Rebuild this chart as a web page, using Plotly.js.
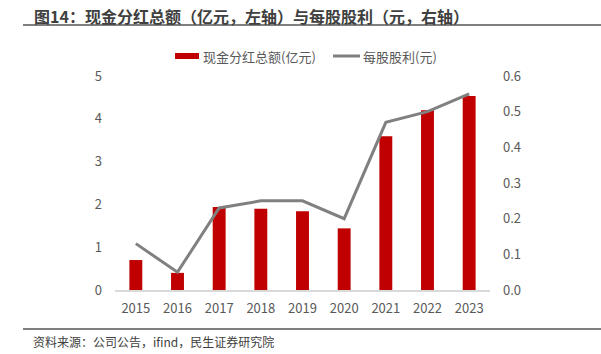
<!DOCTYPE html>
<html><head><meta charset="utf-8">
<script src="https://cdn.plot.ly/plotly-3.0.1.min.js"></script>
<style>html,body{margin:0;padding:0;background:#fff;}#chart{width:601px;height:354px;}</style>
</head><body><div id="chart"></div>
<script>
const years = ['2015','2016','2017','2018','2019','2020','2021','2022','2023'];
const cashDividend = [0.70, 0.40, 1.94, 1.90, 1.84, 1.44, 3.59, 4.20, 4.53];
const dps = [0.13, 0.05, 0.23, 0.25, 0.25, 0.20, 0.47, 0.50, 0.55];
const barName = '现金分红总额(亿元)';
const lineName = '每股股利(元)';
const titleText = '图14：现金分红总额（亿元，左轴）与每股股利（元，右轴）';
const sourceText = '资料来源：公司公告，ifind，民生证券研究院';

const W = 601, H = 354;
const m = {l: 115, r: 111, t: 76, b: 64};
const pw = W - m.l - m.r, ph = H - m.t - m.b;
const px = x => (x - m.l) / pw;
const py = y => (H - m.b - y) / ph;
const FONT = '"Noto Sans CJK SC", "Noto Sans", sans-serif';

const traces = [
  {type: 'bar', x: years, y: cashDividend, name: barName, width: 0.31,
   marker: {color: '#C00000'}, yaxis: 'y', showlegend: false, hoverinfo: 'x+y'},
  {type: 'scatter', mode: 'lines', x: years, y: dps, name: lineName,
   line: {color: '#808080', width: 3}, yaxis: 'y2', showlegend: false}
];

const layout = {
  width: W, height: H,
  margin: m,
  paper_bgcolor: '#fff', plot_bgcolor: '#fff',
  font: {family: FONT, size: 12, color: '#595959'},
  xaxis: {type: 'category', showline: true, linecolor: '#d9d9d9', linewidth: 2,
    ticks: '', showgrid: false, zeroline: false, tickfont: {size: 13, color: '#595959'},
    ticklabelstandoff: 5},
  yaxis: {range: [0, 5], dtick: 1, showgrid: false, zeroline: false, showline: false,
    ticks: '', tickfont: {size: 13, color: '#595959'}, ticklabelstandoff: 12},
  yaxis2: {range: [0, 0.6], dtick: 0.1, tickformat: '.1f', overlaying: 'y', side: 'right',
    showgrid: false, zeroline: false, showline: false, ticks: '',
    tickfont: {size: 13, color: '#595959'}, ticklabelstandoff: 12},
  showlegend: false,
  shapes: [
    {type: 'line', xref: 'paper', yref: 'paper', x0: px(23), x1: px(601), y0: py(25), y1: py(25),
     line: {color: '#7f7f7f', width: 2}},
    {type: 'line', xref: 'paper', yref: 'paper', x0: px(23), x1: px(601), y0: py(329), y1: py(329),
     line: {color: '#7f7f7f', width: 2}},
    {type: 'rect', xref: 'paper', yref: 'paper', x0: px(175), x1: px(199), y0: py(59), y1: py(53),
     fillcolor: '#C00000', line: {width: 0}},
    {type: 'line', xref: 'paper', yref: 'paper', x0: px(333), x1: px(360), y0: py(56), y1: py(56),
     line: {color: '#808080', width: 3}}
  ],
  annotations: [
    {text: '<b>' + titleText + '</b>', xref: 'paper', yref: 'paper', x: px(32), y: py(16),
     xanchor: 'left', yanchor: 'middle', showarrow: false, font: {size: 16, color: '#404040', family: FONT}},
    {text: sourceText, xref: 'paper', yref: 'paper', x: px(31), y: py(341),
     xanchor: 'left', yanchor: 'middle', showarrow: false, font: {size: 12, color: '#404040', family: FONT}},
    {text: barName, xref: 'paper', yref: 'paper', x: px(201), y: py(56),
     xanchor: 'left', yanchor: 'middle', showarrow: false, font: {size: 13, color: '#595959', family: FONT}},
    {text: lineName, xref: 'paper', yref: 'paper', x: px(361), y: py(56),
     xanchor: 'left', yanchor: 'middle', showarrow: false, font: {size: 13, color: '#595959', family: FONT}}
  ]
};

Plotly.newPlot('chart', traces, layout, {displayModeBar: false, staticPlot: true});
</script>
</body></html>
